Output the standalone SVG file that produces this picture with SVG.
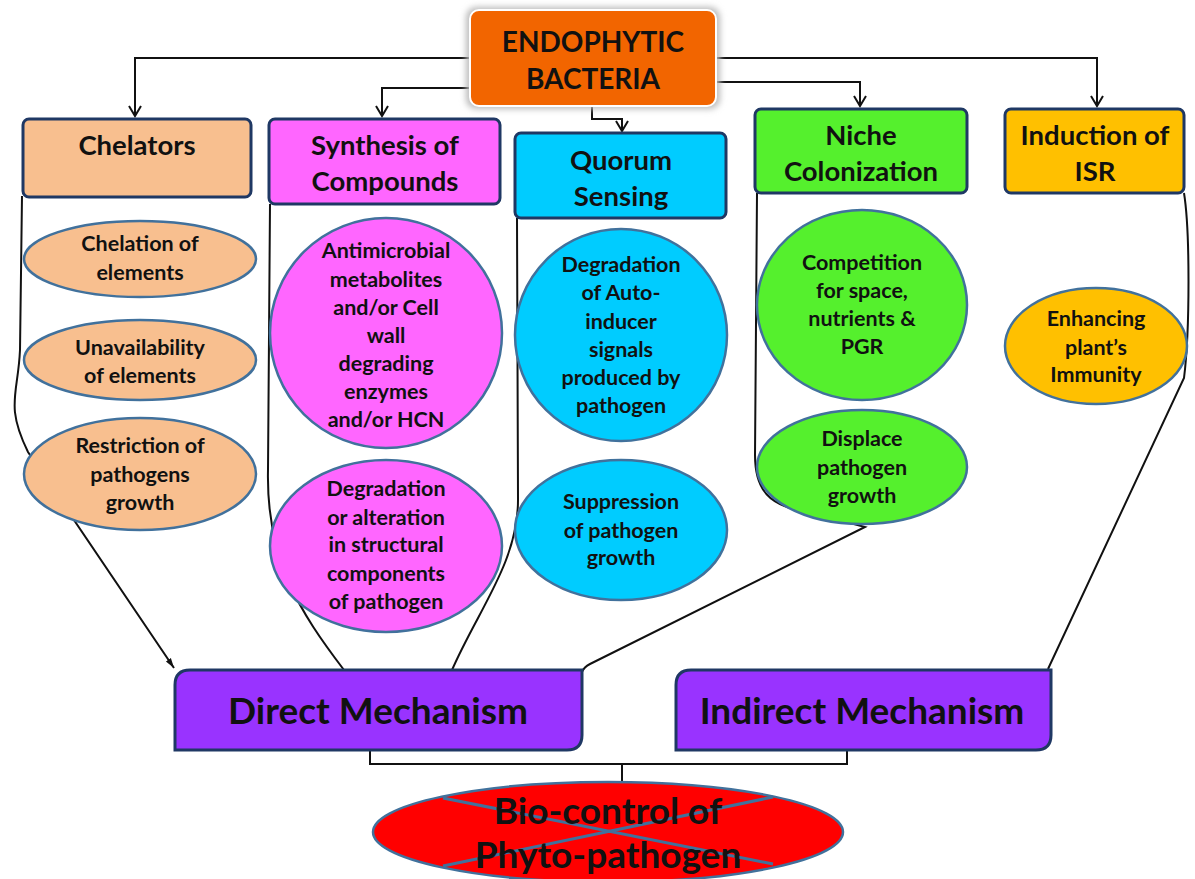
<svg xmlns="http://www.w3.org/2000/svg" width="1195" height="879" viewBox="0 0 1195 879">
<style>
.t{font-family:Lato,"Liberation Sans",sans-serif;font-weight:700;fill:#111;text-anchor:middle}
.h{font-size:27.5px}
.s{font-size:21.5px}
.m{font-size:37px}
.box{stroke:#1F3864;stroke-width:3}
.el{stroke:#41719C;stroke-width:2.5}
.c{fill:none;stroke:#111;stroke-width:2}
</style>
<defs>
<marker id="open" markerWidth="14" markerHeight="14" refX="11" refY="7" orient="auto" markerUnits="userSpaceOnUse">
<path d="M1,1 L11,7 L1,13" fill="none" stroke="#111" stroke-width="2"/>
</marker>
<marker id="solid" markerWidth="12" markerHeight="10" refX="10" refY="5" orient="auto" markerUnits="userSpaceOnUse">
<path d="M0,2 L10,5 L0,8 z" fill="#111"/>
</marker>
<filter id="glow" x="-20%" y="-30%" width="140%" height="160%">
<feGaussianBlur stdDeviation="3"/>
</filter>
</defs>
<rect width="1195" height="879" fill="#fff"/>

<g id="connectors">
<path class="c" d="M470 58 H135 V116" marker-end="url(#open)"/>
<path class="c" d="M470 88 H382 V116" marker-end="url(#open)"/>
<path class="c" d="M592 106 V119 H622 V131" marker-end="url(#open)"/>
<path class="c" d="M716 82 H860 V106" marker-end="url(#open)"/>
<path class="c" d="M716 58 H1097 V106" marker-end="url(#open)"/>
<path class="c" d="M22 196 L20 350 C18 395 5 405 28 452 L174 668" marker-end="url(#solid)"/>
<path class="c" d="M270 204 L268 470 C266 560 300 612 344 670"/>
<path class="c" d="M517 218 L518 500 C518 562 478 610 452 670"/>
<path class="c" d="M757 193 L755 455 C755 498 775 507 820 515 L865 527 L590 664 Q584 667 582 672"/>
<path class="c" d="M1184 193 C1190 230 1190 330 1184 378 L1048 669"/>
<path class="c" d="M370 750 V764 H847 V750 M622 764 V782"/>
</g>

<g id="endophytic">
<rect x="466" y="7" width="254" height="102" rx="10" fill="#bbb" filter="url(#glow)"/>
<rect x="470" y="10" width="246" height="96" rx="9" fill="#F26500" stroke="#fff" stroke-width="2"/>
<text class="t" x="593" y="52" font-size="28">ENDOPHYTIC</text>
<text class="t" x="593" y="89" font-size="28">BACTERIA</text>
</g>

<g id="chelators">
<rect class="box" x="23" y="119" width="228" height="78" rx="6" fill="#F8BF8F"/>
<text class="t h" x="137" y="155">Chelators</text>
</g>
<g id="synthesis">
<rect class="box" x="269" y="119" width="231" height="85" rx="6" fill="#FF66FF"/>
<text class="t h" x="385" y="155">Synthesis of</text>
<text class="t h" x="385" y="191">Compounds</text>
</g>
<g id="quorum">
<rect class="box" x="515" y="133" width="211" height="85" rx="6" fill="#00CCFF"/>
<text class="t h" x="621" y="170">Quorum</text>
<text class="t h" x="621" y="206">Sensing</text>
</g>
<g id="niche">
<rect class="box" x="755" y="109" width="212" height="84" rx="6" fill="#55F02D"/>
<text class="t h" x="861" y="145">Niche</text>
<text class="t h" x="861" y="181">Colonization</text>
</g>
<g id="isr">
<rect class="box" x="1005" y="109" width="179" height="84" rx="6" fill="#FFC000"/>
<text class="t h" x="1095" y="145">Induction of</text>
<text class="t h" x="1095" y="181">ISR</text>
</g>

<g id="chelation">
<ellipse class="el" cx="140" cy="259" rx="116" ry="38" fill="#F8BF8F"/>
<text class="t s" x="140" y="251">Chelation of</text>
<text class="t s" x="140" y="280">elements</text>
</g>
<g id="unavailability">
<ellipse class="el" cx="140" cy="360" rx="116" ry="40" fill="#F8BF8F"/>
<text class="t s" x="140" y="355">Unavailability</text>
<text class="t s" x="140" y="383">of elements</text>
</g>
<g id="restriction">
<ellipse class="el" cx="140" cy="474" rx="116" ry="56" fill="#F8BF8F"/>
<text class="t s" x="140" y="453">Restriction  of</text>
<text class="t s" x="140" y="482">pathogens</text>
<text class="t s" x="140" y="510">growth</text>
</g>

<g id="antimicrobial">
<ellipse class="el" cx="386" cy="333" rx="116" ry="115" fill="#FF66FF"/>
<text class="t s" x="386" y="258">Antimicrobial</text>
<text class="t s" x="386" y="287">metabolites</text>
<text class="t s" x="386" y="315">and/or Cell</text>
<text class="t s" x="386" y="343">wall</text>
<text class="t s" x="386" y="371">degrading</text>
<text class="t s" x="386" y="399">enzymes</text>
<text class="t s" x="386" y="427">and/or HCN</text>
</g>
<g id="structural">
<ellipse class="el" cx="386" cy="546" rx="116" ry="86" fill="#FF66FF"/>
<text class="t s" x="386" y="496">Degradation</text>
<text class="t s" x="386" y="525">or alteration</text>
<text class="t s" x="386" y="552">in structural</text>
<text class="t s" x="386" y="581">components</text>
<text class="t s" x="386" y="609">of pathogen</text>
</g>

<g id="autoinducer">
<ellipse class="el" cx="621" cy="335" rx="106" ry="106" fill="#00CCFF"/>
<text class="t s" x="621" y="272">Degradation</text>
<text class="t s" x="621" y="300">of Auto-</text>
<text class="t s" x="621" y="329">inducer</text>
<text class="t s" x="621" y="357">signals</text>
<text class="t s" x="621" y="385">produced by</text>
<text class="t s" x="621" y="413">pathogen</text>
</g>
<g id="suppression">
<ellipse class="el" cx="621" cy="530" rx="106" ry="70" fill="#00CCFF"/>
<text class="t s" x="621" y="509">Suppression</text>
<text class="t s" x="621" y="538">of pathogen</text>
<text class="t s" x="621" y="565">growth</text>
</g>

<g id="competition">
<ellipse class="el" cx="862" cy="305" rx="105" ry="95" fill="#55F02D"/>
<text class="t s" x="862" y="270">Competition</text>
<text class="t s" x="862" y="298">for space,</text>
<text class="t s" x="862" y="326">nutrients &amp;</text>
<text class="t s" x="862" y="354">PGR</text>
</g>
<g id="displace">
<ellipse class="el" cx="862" cy="467" rx="105" ry="57" fill="#55F02D"/>
<text class="t s" x="862" y="446">Displace</text>
<text class="t s" x="862" y="475">pathogen</text>
<text class="t s" x="862" y="503">growth</text>
</g>

<g id="enhancing">
<ellipse class="el" cx="1096" cy="346" rx="91" ry="58" fill="#FFC000"/>
<text class="t s" x="1096" y="326">Enhancing</text>
<text class="t s" x="1096" y="355">plant’s</text>
<text class="t s" x="1096" y="382">Immunity</text>
</g>

<g id="direct">
<path class="box" d="M190 670 H582 V735 Q582 750 567 750 H175 V685 Q175 670 190 670 Z" fill="#9933FF"/>
<text class="t m" x="378" y="724">Direct Mechanism</text>
</g>
<g id="indirect">
<path class="box" d="M691 670 H1051 V735 Q1051 750 1036 750 H676 V685 Q676 670 691 670 Z" fill="#9933FF"/>
<text class="t m" x="862" y="724">Indirect Mechanism</text>
</g>

<g id="biocontrol">
<ellipse class="el" cx="608" cy="832" rx="235" ry="50" fill="#FF0000" stroke-width="3"/>
<path d="M443 798 L773 864 M443 866 L773 797" stroke="#41719C" stroke-width="3" fill="none"/>
<text class="t m" x="608" y="824">Bio-control of</text>
<text class="t m" x="608" y="868">Phyto-pathogen</text>
</g>
</svg>
